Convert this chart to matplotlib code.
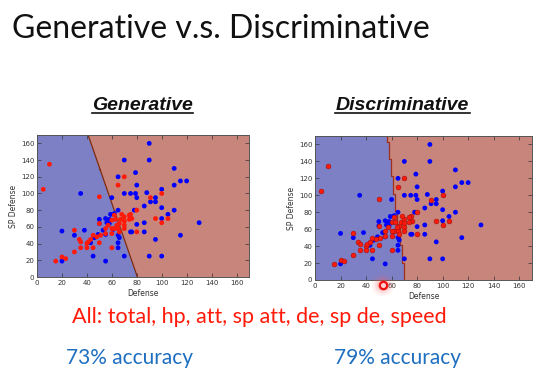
import numpy as np
import matplotlib
matplotlib.use('Agg')
import matplotlib.pyplot as plt
from matplotlib.colors import ListedColormap

# Pokemon test points (Defense, SP Defense)
blue_def = [90, 90, 70, 79, 110, 65, 80, 110, 115, 120, 35, 60, 70, 75, 79, 80, 88, 100,
            95, 91, 95, 86, 100, 78, 110, 105, 100, 86, 80, 76, 86, 130, 115, 95, 90, 100,
            65, 62, 59, 20, 20, 30, 38, 43, 45, 49, 50, 50, 55, 55, 58, 58, 65, 66, 65, 65,
            70, 75, 55, 56, 46, 53, 61]
blue_spdef = [160, 140, 140, 125, 130, 120, 110, 110, 115, 115, 100, 95, 100, 100, 100, 95, 101, 105,
              95, 90, 90, 85, 83, 80, 80, 75, 70, 65, 63, 54, 54, 65, 50, 45, 25, 25,
              80, 76, 75, 19, 55, 50, 56, 41, 25, 51, 69, 64, 51, 19, 69, 64, 50, 47, 41, 35,
              25, 54, 70, 65, 47, 56, 57]

red_def = [10, 5, 50, 70, 65, 91, 100, 80, 75, 76, 95, 100, 105, 80,
           15, 20, 23, 30, 30, 34, 35, 35, 40, 41, 43, 40, 45, 45, 48, 51, 50, 50, 55, 55,
           60, 60, 62, 63, 62, 60, 66, 67, 70, 70, 70, 74, 74, 60, 65, 66, 70, 57, 64, 68]
red_spdef = [135, 105, 96, 120, 110, 95, 100, 80, 75, 70, 70, 65, 70, 54,
             19, 24, 22, 56, 30, 45, 42, 35, 40, 42, 45, 35, 35, 50, 48, 50, 41, 64, 58, 52,
             68, 35, 74, 69, 58, 52, 64, 69, 72, 67, 62, 74, 69, 58, 58, 54, 58, 62, 62, 75]

# decision boundaries: Defense value where the boundary crosses SP Defense = 0 and = 170
gen_boundary = [80.5, 41.0]
disc_boundary = [70.3, 56.4]

W, H = 554, 389
fig = plt.figure(figsize=(W / 100, H / 100), dpi=100)
fig.patch.set_facecolor('white')

region_cmap = ListedColormap(['#7d80c5', '#c8857c'])
slide_font = ['Lato', 'DejaVu Sans']


def add_axes_px(left, top, right, bottom):
    return fig.add_axes([left / W, 1 - bottom / H, (right - left) / W, (bottom - top) / H])


def boundary_x(bounds, y):
    return bounds[0] + (bounds[1] - bounds[0]) * y / 170.0


def style_axes(ax):
    ax.set_xlim(0, 170)
    ax.set_ylim(0, 170)
    ax.set_xticks(range(0, 161, 20))
    ax.set_yticks(range(0, 161, 20))
    ax.tick_params(direction='in', length=3, width=0.5, labelsize=5, pad=2,
                   top=True, right=True, colors='#333333')
    for s in ax.spines.values():
        s.set_linewidth(0.7)
        s.set_color('#555555')
    ax.set_xlabel('Defense', fontsize=5.5, labelpad=2, color='#333333')
    ax.set_ylabel('SP Defense', fontsize=5.5, labelpad=2, color='#333333')


# ---- Generative (linear boundary) ----
ax1 = add_axes_px(37, 135, 249, 277)
gx, gy = np.meshgrid(np.linspace(0, 170, 400), np.linspace(0, 170, 400))
gz = gx - boundary_x(gen_boundary, gy)
ax1.contourf(gx, gy, gz, levels=[-1e9, 0, 1e9], cmap=region_cmap)
ax1.contour(gx, gy, gz, levels=[0], colors='#7a2a14', linewidths=0.9)
ax1.scatter(blue_def, blue_spdef, s=12, c='#0000ff', edgecolors='none', zorder=3)
ax1.scatter(red_def, red_spdef, s=12, c='#ff1a0a', edgecolors='none', zorder=3)
style_axes(ax1)

# ---- Discriminative (coarse grid boundary) ----
ax2 = add_axes_px(315, 136, 532, 280)
step = 1.7
ex = np.arange(0, 170 + step, step)
ey = np.arange(0, 170 + step * 6, step * 6)
cx, cy = np.meshgrid((ex[:-1] + ex[1:]) / 2, (ey[:-1] + ey[1:]) / 2)
dz = (cx - boundary_x(disc_boundary, cy) > 0).astype(float)
ax2.pcolormesh(ex, ey, dz, cmap=region_cmap, vmin=0, vmax=1, shading='flat')
# staircase edge between the two regions
sx, sy = [], []
for j in range(len(ey) - 1):
    first = ex[np.argmax(dz[j] > 0.5)]
    sx += [first, first]
    sy += [ey[j], ey[j + 1]]
ax2.plot(sx, sy, color='#a0301c', lw=0.9, zorder=2)
ax2.scatter(blue_def, blue_spdef, s=12, c='#0000ff', edgecolors='none', zorder=3)
ax2.scatter(red_def, red_spdef, s=12, c='#ff1a0a', edgecolors='#a01010', linewidths=0.4, zorder=3)
style_axes(ax2)

# ---- slide text ----
fig.text(12 / W, 1 - 38 / H, 'Generative v.s. Discriminative', fontsize=23,
         family=slide_font, fontweight='normal', color='#111111', ha='left', va='baseline')
fig.text(142.5 / W, 1 - 110 / H, 'Generative', fontsize=14, family=['Liberation Sans', 'DejaVu Sans'],
         fontweight='bold', fontstyle='italic', ha='center', va='baseline', color='#111111')
fig.text(402.5 / W, 1 - 110 / H, 'Discriminative', fontsize=14, family=['Liberation Sans', 'DejaVu Sans'],
         fontweight='bold', fontstyle='italic', ha='center', va='baseline', color='#111111')
fig.text(259.5 / W, 1 - 323 / H, 'All: total, hp, att, sp att, de, sp de, speed', fontsize=15.5,
         family=slide_font, color='#ff1a0a', ha='center', va='baseline')
fig.text(130 / W, 1 - 364 / H, '73% accuracy', fontsize=15, family=slide_font,
         color='#1f6fc0', ha='center', va='baseline')
fig.text(398 / W, 1 - 364 / H, '79% accuracy', fontsize=15, family=slide_font,
         color='#1f6fc0', ha='center', va='baseline')

# overlay for underlines and the laser pointer dot
deco = fig.add_axes([0, 0, 1, 1], zorder=10)
deco.set_xlim(0, W)
deco.set_ylim(H, 0)
deco.axis('off')
deco.patch.set_alpha(0)
deco.plot([92, 193], [113, 113], color='#111111', lw=1.2)
deco.plot([335, 470], [113, 113], color='#111111', lw=1.2)
for size, alpha in [(260, 0.08), (150, 0.12), (80, 0.2)]:
    deco.scatter([383], [285], s=size, c='#ff6060', alpha=alpha, edgecolors='none')
deco.scatter([383], [285], s=28, facecolors='#ffd0d0', edgecolors='#ee1111', linewidths=1.6)

fig.savefig('out.png', dpi=100)
